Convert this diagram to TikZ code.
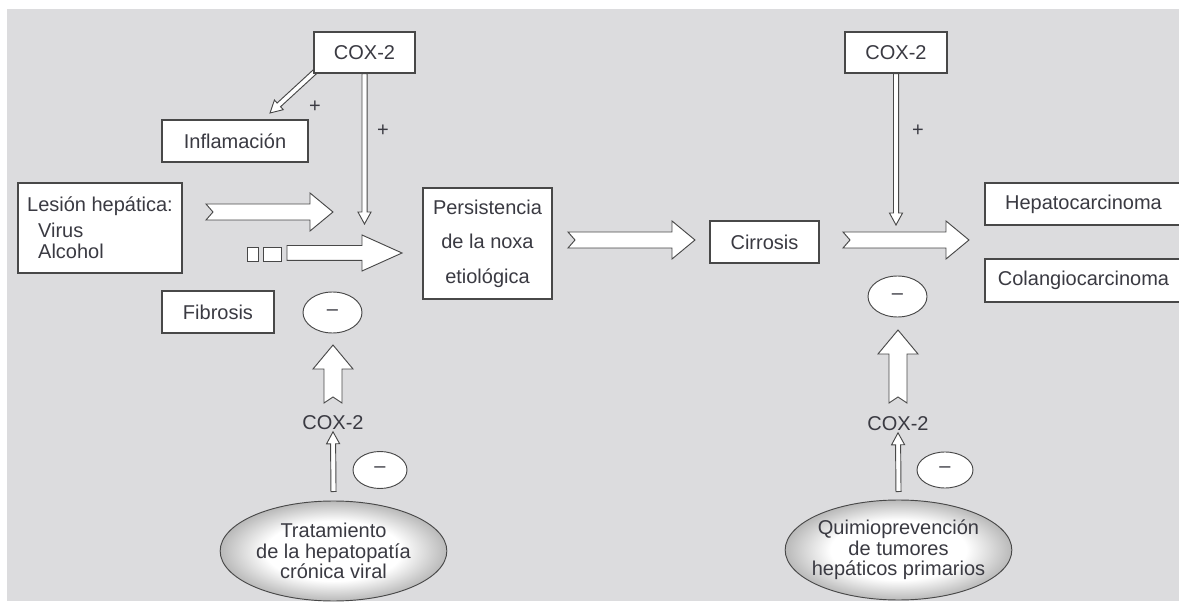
\documentclass[tikz,border=0pt]{standalone}
\usepackage{fontspec}
\setmainfont{Liberation Sans}
\usepackage{tikz}
\usetikzlibrary{arrows.meta, positioning, shapes.geometric, calc, backgrounds}

\definecolor{panel}{RGB}{220,220,222}
\definecolor{ink}{RGB}{58,58,66}
\definecolor{rim}{RGB}{72,72,72}
\pgfdeclareradialshading{glow}{\pgfpoint{0bp}{0bp}}{%
  color(0bp)=(white); color(15bp)=(white); color(25bp)=(gray!55); color(50bp)=(gray!55)}

\begin{document}
\begin{tikzpicture}[
  x=0.75pt, y=-0.75pt,
  every node/.style={font=\fontsize{15}{18}\selectfont, text=ink},
  box/.style={draw=rim, fill=white, line width=0.9pt, inner sep=0pt, align=center},
  neg/.style={ellipse, draw=rim, fill=white, line width=0.7pt, inner sep=0pt},
  oval/.style={
    ellipse, draw=rim, line width=0.7pt, shading=glow,
    minimum width=170pt, minimum height=75pt, inner xsep=-10pt, inner ysep=0pt,
    align=center, font=\fontsize{15}{15.4}\selectfont
  },
  sq/.style={draw=rim, fill=white, line width=0.7pt, minimum height=10.5pt, inner sep=0pt},
  blockarr/.style n args={4}{
    draw=rim, fill=white, line width=0.7pt, line join=miter,
    to path={
      ($(\tikztostart)!#1!90:(\tikztotarget)$)
      -- ($($(\tikztotarget)!#3!(\tikztostart)$)!#1!90:(\tikztotarget)$)
      -- ($($(\tikztotarget)!#3!(\tikztostart)$)!#2!90:(\tikztotarget)$)
      -- (\tikztotarget)
      -- ($($(\tikztotarget)!#3!(\tikztostart)$)!#2!-90:(\tikztotarget)$)
      -- ($($(\tikztotarget)!#3!(\tikztostart)$)!#1!-90:(\tikztotarget)$)
      -- ($(\tikztostart)!#1!-90:(\tikztotarget)$)
      -- ($(\tikztostart)!#4!(\tikztotarget)$)
      -- cycle
    }
  },
  bigarr/.style={blockarr={6pt}{14.25pt}{17.25pt}{5.25pt}},
  uparr/.style={blockarr={6.75pt}{15pt}{18pt}{4.5pt}},
  flatarr/.style={blockarr={5.6pt}{13.5pt}{30pt}{0pt}},
  thinarr/.style={blockarr={1.9pt}{4.9pt}{9pt}{0pt}}
]
\useasboundingbox (0,0) rectangle (1179,602);

% Left half
\node[box, minimum width=75.75pt, minimum height=30.75pt] (cox1) at (364.5,52.5) {COX-2};
\node[box, minimum width=109.5pt, minimum height=31.5pt] (infl) at (235,141) {Inflamación};
\node[box, minimum width=123pt, minimum height=67.5pt, align=left] (lesion) at (100,228)
  {Lesión hepática:\\[1.5pt]\hspace*{8.25pt}Virus\\[-2.25pt]\hspace*{8.25pt}Alcohol};
\node[box, minimum width=84pt, minimum height=31.5pt] (fib) at (218,312) {Fibrosis};
\node[sq, minimum width=8.25pt] (sq1) at (252.5,254) {};
\node[sq, minimum width=13.5pt] (sq2) at (272,254) {};
\node[neg, minimum width=44.25pt, minimum height=30.75pt] (neg1) at (332.5,312.5) {--};
\node (coxl) at (333,423) {COX-2};
\node[neg, minimum width=40.5pt, minimum height=27.75pt] (neg3) at (380,470) {--};
\node[oval] (trat) at (333.5,551) {Tratamiento\\de la hepatopatía\\crónica viral};

% Centre
\node[box, minimum width=96.75pt, minimum height=83.25pt, font=\fontsize{15}{26}\selectfont]
  (pers) at (487.5,243.5) {Persistencia\\de la noxa\\etiológica};
\node[box, minimum width=81.75pt, minimum height=31.5pt] (cirr) at (764.5,242) {Cirrosis};

% Right half
\node[box, minimum width=76.5pt, minimum height=30.75pt] (cox2) at (896,52.5) {COX-2};
\node[box, minimum width=147.75pt, minimum height=31.5pt] (hcc) at (1083.5,204) {Hepatocarcinoma};
\node[box, minimum width=147.75pt, minimum height=32.25pt] (cca) at (1083.5,280.5) {Colangiocarcinoma};
\node[neg, minimum width=44.25pt, minimum height=30.75pt] (neg2) at (897.5,296.5) {--};
\node (coxr) at (898,424) {COX-2};
\node[neg, minimum width=42pt, minimum height=27pt] (neg4) at (945,470) {--};
\node[oval] (quim) at (898.5,550) {Quimioprevención\\de tumores\\hepáticos primarios};

% Signs
\node (plus1) at (315,107) {+};
\node (plus2) at (383,131) {+};
\node (plus3) at (918,131) {+};

% Arrow ends
\coordinate (infltip) at (270,113);
\coordinate (tip1) at (364.5,224);
\coordinate (lesA) at (206,212);
\coordinate (lesB) at (333,212);
\coordinate (sqA) at (287,253);
\coordinate (sqB) at (402,253);
\coordinate (persA) at (568,240);
\coordinate (persB) at (695,240);
\coordinate (cirrA) at (843,240);
\coordinate (cirrB) at (969,240);
\coordinate (tip2) at (896,225);
\coordinate (upA) at (333,403);
\coordinate (upB) at (333,345);
\coordinate (upC) at (898,403);
\coordinate (upD) at (898,330);

% Block arrows
\draw[thinarr] (cox1.south) to (tip1);
\draw[bigarr] (lesA) to (lesB);
\draw[flatarr] (sqA) to (sqB);
\draw[bigarr] (persA) to (persB);
\draw[bigarr] (cirrA) to (cirrB);
\draw[thinarr] (cox2.south) to (tip2);
\draw[uparr] (upA) to (upB);
\draw[uparr] (upC) to (upD);
\draw[thinarr] ($(trat.north)+(0,-9)$) to ($(coxl.south)+(0,-3)$);
\draw[thinarr] ($(quim.north)+(0,-8)$) to ($(coxr.south)+(0,-3)$);

\begin{scope}[on background layer]
  \fill[panel] (7,9) rectangle (1179,601);
  \draw[thinarr] ($(cox1.south west)+(6,-6)$) to (infltip);
\end{scope}

\end{tikzpicture}
\end{document}
